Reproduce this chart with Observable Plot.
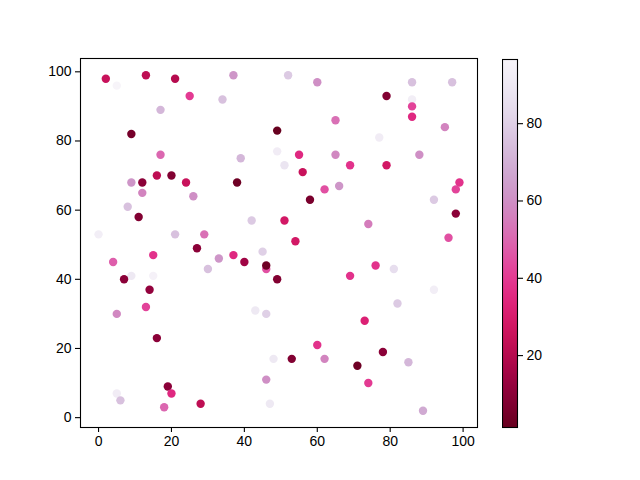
<!DOCTYPE html>
<html>
<head>
<meta charset="utf-8">
<script src="https://cdn.jsdelivr.net/npm/d3@7"></script>
<script src="https://cdn.jsdelivr.net/npm/@observablehq/plot@0.6"></script>
<style>
  html, body { margin: 0; padding: 0; background: white; }
  #wrap { position: relative; width: 640px; height: 480px; }
  #wrap > svg { position: absolute; top: 0; }
</style>
</head>
<body>
<div id="wrap"></div>
<script>
const xs = [2,5,13,21,37,52,25,34,17,9,49,17,39,49,51,9,12,16,20,24,38,60,86,97,79,86,86,86,65,95,77,55,65,88,69,79,56,99,62,66,12,26,8,11,42,51,0,21,29,27,15,33,37,40,45,4,46,46,49,9,7,15,30,14,13,58,54,74,92,98,98,96,76,69,81,92,82,5,43,46,16,48,46,19,20,5,6,18,28,47,73,60,53,62,78,71,85,74,89];
const ys = [98,96,99,98,99,99,93,92,89,82,83,76,75,77,73,68,68,70,70,68,68,97,97,97,93,92,90,87,86,84,81,76,76,76,73,73,71,68,66,67,65,64,61,58,57,57,53,53,53,49,47,46,47,45,48,45,43,44,40,41,40,41,43,37,32,63,51,56,63,66,59,52,44,41,43,37,33,30,31,30,23,17,11,9,7,7,5,3,4,4,28,21,17,17,19,15,16,10,2];
const cs = [25,97,22,20,62,78,40,75,72,5,1,50,72,92,88,62,10,22,8,25,3,60,75,75,8,93,42,35,52,57,92,35,58,60,38,28,25,38,45,62,57,60,75,8,78,28,93,75,52,10,38,62,35,15,80,48,45,3,8,90,10,95,75,12,42,6,28,55,78,42,10,45,38,38,85,93,78,58,90,80,10,90,60,10,35,92,75,50,22,90,32,38,8,57,10,3,72,40,68];
const xTicks = [0,20,40,60,80,100];
const yTicks = [0,20,40,60,80,100];
const cTicks = [20,40,60,80];

const data = xs.map((x, i) => ({x, y: ys[i], c: cs[i]}));
const colorScale = {type: "linear", scheme: "purd", reverse: true, domain: [1.4, 96.6], clamp: true};
const font = {fontFamily: "'Liberation Sans', 'DejaVu Sans', sans-serif", fontSize: "14px", color: "black", background: "transparent"};

const main = Plot.plot({
  width: 640, height: 480,
  marginLeft: 80, marginRight: 163, marginTop: 58, marginBottom: 53,
  style: font,
  x: {domain: [-4.95, 103.95]},
  y: {domain: [-2.85, 103.85]},
  color: colorScale,
  marks: [
    Plot.dot(data, {x: "x", y: "y", fill: "c", r: 4.2, stroke: null}),
    Plot.frame({stroke: "black", strokeWidth: 1.1}),
    Plot.axisX({ticks: xTicks, tickSize: 5, tickPadding: 4, label: null, strokeWidth: 1.1}),
    Plot.axisY({ticks: yTicks, tickSize: 5, tickPadding: 4, label: null, strokeWidth: 1.1})
  ]
});
main.style.left = "0px";

const bar = Plot.plot({
  width: 60, height: 480,
  marginLeft: 0, marginRight: 45, marginTop: 59, marginBottom: 53,
  style: font,
  x: {domain: [0, 1], axis: null},
  y: {domain: [1.4, 96.6]},
  color: colorScale,
  marks: [
    Plot.raster({fill: (x, y) => y, x1: 0, x2: 1, y1: 1.4, y2: 96.6, width: 1, height: 368}),
    Plot.frame({stroke: "black", strokeWidth: 1.1}),
    Plot.axisY({anchor: "right", ticks: cTicks, tickSize: 5, tickPadding: 4, label: null, strokeWidth: 1.1})
  ]
});
bar.style.left = "502px";

const wrap = document.getElementById("wrap");
wrap.appendChild(main);
wrap.appendChild(bar);
</script>
</body>
</html>
